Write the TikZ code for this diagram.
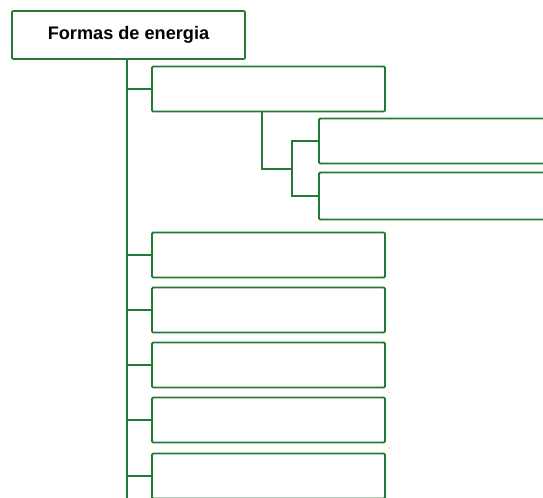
\documentclass[tikz,border=0pt]{standalone}
\usepackage{fontspec}
\setmainfont{Liberation Sans}
\definecolor{treegreen}{RGB}{36,122,52}
\begin{document}
\begin{tikzpicture}[x=0.03cm,y=-0.03cm]

        \useasboundingbox (0,0) rectangle (543,497);
        \clip (0,0) rectangle (543,497);

        \begin{scope}[every node/.style={draw=treegreen,line width=1.6pt,rounded corners=1pt,
                      minimum width=6.99cm,minimum height=1.35cm,inner sep=0pt}]
          \node (root) at (128.5,35)  [minimum height=1.44cm]
                {\fontsize{15.5}{17}\selectfont\bfseries Formas de energia};
          \node (a)  at (268.5,89)   {};
          \node (b)  at (444.5,141)  [minimum width=7.53cm] {};
          \node (c)  at (444.5,196)  [minimum width=7.53cm,minimum height=1.41cm] {};
          \node (d1) at (268.5,255)  {};
          \node (d2) at (268.5,310)  {};
          \node (d3) at (268.5,365)  {};
          \node (d4) at (268.5,420)  {};
          \node (d5) at (268.5,476)  {};
        \end{scope}

        \coordinate (end)   at (127,500);
        \coordinate (split) at (262,169);
        \coordinate (fork)  at (292,169);

        \begin{scope}[draw=treegreen,line width=1.6pt]
          \draw (root.south -| end) -- (end);
          \draw (a.west)  -- (a.west -| end);
          \draw (d1.west) -- (d1.west -| end);
          \draw (d2.west) -- (d2.west -| end);
          \draw (d3.west) -- (d3.west -| end);
          \draw (d4.west) -- (d4.west -| end);
          \draw (d5.west) -- (d5.west -| end);
          \draw (a.south -| split) -- (split) -- (fork);
          \draw (b.west) -| (fork) |- (c.west);
        \end{scope}

      \end{tikzpicture}
\end{document}
